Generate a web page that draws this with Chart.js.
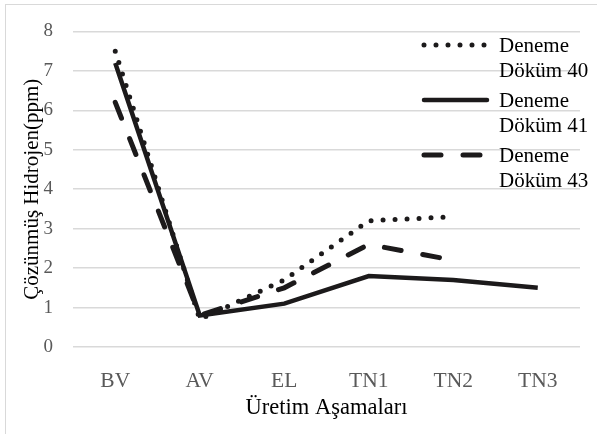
<!DOCTYPE html>
<html>
<head>
<meta charset="utf-8">
<script src="https://cdn.jsdelivr.net/npm/chart.js@4"></script>
<style>
  html, body { margin: 0; padding: 0; background: #fff; }
  #wrap { position: relative; width: 597px; height: 434px; overflow: hidden; }
  #frame {
    position: absolute; left: 5px; top: 4px; width: 700px; height: 500px;
    border-top: 1.5px solid #d9d9d9; border-left: 1.5px solid #d9d9d9;
  }
  #hydrogenChart { position: absolute; left: 0; top: 0; }
</style>
</head>
<body>
<div id="wrap">
  <div id="frame"></div>
  <canvas id="hydrogenChart" width="597" height="434"></canvas>
</div>
<script>
// ---------- data ---------- //
const categories = ["BV", "AV", "EL", "TN1", "TN2", "TN3"];
const seriesLabels = ["Deneme Döküm 40", "Deneme Döküm 41", "Deneme Döküm 43"];
const dokum40 = [7.5, 0.7, 1.7, 3.2, 3.3, null];
const dokum41 = [7.2, 0.8, 1.1, 1.8, 1.7, 1.5];
const dokum43 = [6.2, 0.8, 1.5, 2.6, 2.2, null];
const yTicks = [0, 1, 2, 3, 4, 5, 6, 7, 8];

const FONT = "'Liberation Serif', 'Times New Roman', serif";
const INK = "#1c1a1b";

// ---------- legend drawn at the right, with wrapped labels ---------- //
const sideLegend = {
  id: "sideLegend",
  afterDatasetsDraw(chart) {
    const ctx = chart.ctx;
    const rows = [45, 100, 155];
    chart.data.datasets.forEach((ds, i) => {
      const y = rows[i];
      ctx.save();
      ctx.strokeStyle = ds.borderColor;
      ctx.lineWidth = ds.borderWidth;
      ctx.lineCap = "round";
      ctx.setLineDash(ds.borderDash || []);
      ctx.beginPath();
      ctx.moveTo(424, y);
      ctx.lineTo(487, y);
      ctx.stroke();
      ctx.setLineDash([]);
      ctx.fillStyle = "#000";
      ctx.font = "21px " + FONT;
      ctx.textBaseline = "middle";
      ctx.textAlign = "left";
      const words = ds.label.split(" ");
      ctx.fillText(words[0], 499, y + 1);
      ctx.fillText(words.slice(1).join(" "), 499, y + 26);
      ctx.restore();
    });
  },
};

new Chart(document.getElementById("hydrogenChart"), {
  type: "line",
  data: {
    labels: categories,
    datasets: [
      {
        label: seriesLabels[0],
        data: dokum40,
        borderColor: INK,
        borderWidth: 5,
        borderDash: [0, 12],
        borderCapStyle: "round",
        pointRadius: 0,
        tension: 0,
      },
      {
        label: seriesLabels[1],
        data: dokum41,
        borderColor: INK,
        borderWidth: 4.5,
        pointRadius: 0,
        tension: 0,
      },
      {
        label: seriesLabels[2],
        data: dokum43,
        borderColor: INK,
        borderWidth: 5,
        borderDash: [17, 22],
        borderCapStyle: "round",
        pointRadius: 0,
        tension: 0,
      },
    ],
  },
  options: {
    responsive: false,
    animation: false,
    layout: { padding: { left: 0, right: 17, top: 27, bottom: 0 } },
    plugins: {
      legend: { display: false },
      tooltip: { enabled: false },
    },
    scales: {
      x: {
        offset: true,
        grid: { display: false },
        border: { display: false },
        ticks: {
          color: "#595959",
          font: { family: FONT, size: 21.5 },
          padding: 13,
          maxRotation: 0,
        },
        title: {
          display: true,
          text: "Üretim Aşamaları",
          color: "#000",
          font: { family: FONT, size: 22.5 },
          padding: { top: 0, bottom: 12 },
        },
        afterFit(scale) {
          scale.height = 87;
        },
      },
      y: {
        min: yTicks[0],
        max: yTicks[yTicks.length - 1],
        afterBuildTicks(scale) {
          scale.ticks = yTicks.map((v) => ({ value: v }));
        },
        grid: { color: "#d9d9d9", lineWidth: 1.5, drawTicks: false },
        border: { display: false },
        ticks: {
          color: "#595959",
          font: { family: FONT, size: 19 },
          padding: 20,
        },
        title: {
          display: true,
          text: "Çözünmüş Hidrojen(ppm)",
          color: "#000",
          font: { family: FONT, size: 21 },
          padding: { top: 20, bottom: 0 },
        },
        afterFit(scale) {
          scale.width = 73;
        },
      },
    },
  },
  plugins: [sideLegend],
});
</script>
</body>
</html>
